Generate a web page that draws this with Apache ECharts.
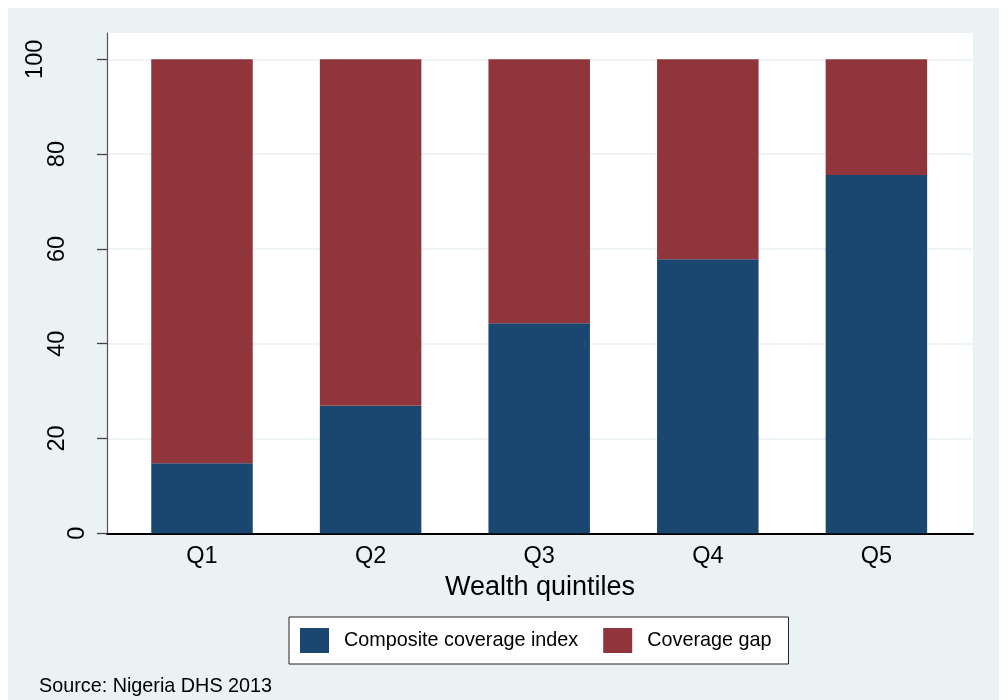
<!DOCTYPE html>
<html><head><meta charset="utf-8">
<script src="https://cdn.jsdelivr.net/npm/echarts@6/dist/echarts.min.js"></script>
<style>html,body{margin:0;padding:0;background:#fff}#c{width:1008px;height:700px}</style>
</head><body><div id="c"></div>
<script>
// ---- data ----
const categories = ['Q1', 'Q2', 'Q3', 'Q4', 'Q5'];
const coverageIndex = [14.8, 26.9, 44.3, 57.8, 75.6];
const coverageGap = [85.2, 73.1, 55.7, 42.2, 24.4];
const seriesNames = ['Composite coverage index', 'Coverage gap'];
const xTitle = 'Wealth quintiles';
const sourceNote = 'Source: Nigeria DHS 2013';
const yMin = 0, yMax = 100, yStep = 20;

// ---- style ----
const FONT = '"Liberation Sans", Arial, Helvetica, sans-serif';
const NAVY = '#1a476f', MAROON = '#90353b', BG = '#eaf2f3';
const LBL = 23.5;

const chart = echarts.init(document.getElementById('c'), null, {renderer: 'canvas'});

function yLabelAxis(filter, margin, extra) {
  return Object.assign({
    gridIndex: 1, type: 'value', position: 'left', offset: 0,
    min: yMin, max: yMax, interval: yStep,
    axisLine: {show: false, onZero: false}, axisTick: {show: false}, splitLine: {show: false},
    axisLabel: {rotate: 90, fontSize: LBL, color: '#000', fontFamily: FONT, margin: margin,
      formatter: v => filter(v) ? String(v) : ''}
  }, extra || {});
}

const option = {
  backgroundColor: '#fff',
  animation: false,
  textStyle: {fontFamily: FONT},
  graphic: {elements: [
    {type: 'rect', z: -100, silent: true, shape: {x: 8, y: 8, width: 991, height: 692}, style: {fill: BG}},
    {type: 'text', silent: true, style: {text: sourceNote, x: 39, y: 687, fontSize: 19.8, fontFamily: FONT, fill: '#000', verticalAlign: 'middle', align: 'left'}}
  ]},
  legend: {
    data: seriesNames, left: 289, top: 617, orient: 'horizontal', icon: 'rect',
    itemWidth: 29, itemHeight: 25, itemGap: 25, padding: [11, 17, 11, 11],
    backgroundColor: '#fff', borderColor: '#222', borderWidth: 1,
    textStyle: {fontSize: 19.8, color: '#000', fontFamily: FONT, padding: [0, 0, 0, 10]}
  },
  grid: [
    {left: 107, right: 35, top: 33, bottom: 166.7, show: true, backgroundColor: '#fff', borderWidth: 0},
    {left: 107, right: 35, top: 59.3, bottom: 166.7},
    {left: 117.7, right: 47.3, top: 59.3, bottom: 166.7}
  ],
  xAxis: [
    {gridIndex: 0, type: 'value', min: 0, max: 1, position: 'bottom',
      axisLine: {show: true, lineStyle: {color: '#000', width: 2}}, axisTick: {show: false},
      axisLabel: {show: false}, splitLine: {show: false},
      name: xTitle, nameLocation: 'middle', nameGap: 41,
      nameTextStyle: {fontSize: 27, color: '#000', fontFamily: FONT}},
    {gridIndex: 1, type: 'value', show: false},
    {gridIndex: 2, type: 'category', data: categories, position: 'bottom',
      axisLine: {show: false}, axisTick: {show: false},
      axisLabel: {fontSize: LBL, color: '#000', fontFamily: FONT, margin: 11}}
  ],
  yAxis: [
    {gridIndex: 0, type: 'value', min: 0, max: 1, position: 'left',
      axisLine: {show: true, lineStyle: {color: '#555', width: 1.2}},
      axisTick: {show: false}, axisLabel: {show: false}, splitLine: {show: false}},
    yLabelAxis(v => v > yMin && v < yMax, 37, {
      axisTick: {show: true, length: 10, lineStyle: {color: '#444', width: 1.3}},
      splitLine: {show: true, lineStyle: {color: BG, width: 1.5}}
    }),
    yLabelAxis(v => v === yMin, 17),
    yLabelAxis(v => v === yMax, 59),
    {gridIndex: 2, type: 'value', min: yMin, max: yMax, show: false}
  ],
  series: [
    {name: seriesNames[0], type: 'bar', xAxisIndex: 2, yAxisIndex: 4, stack: 'total',
      barWidth: 101.5, data: coverageIndex, itemStyle: {color: NAVY}},
    {name: seriesNames[1], type: 'bar', xAxisIndex: 2, yAxisIndex: 4, stack: 'total',
      barWidth: 101.5, data: coverageGap, itemStyle: {color: MAROON}}
  ]
};
chart.setOption(option);
</script></body></html>
